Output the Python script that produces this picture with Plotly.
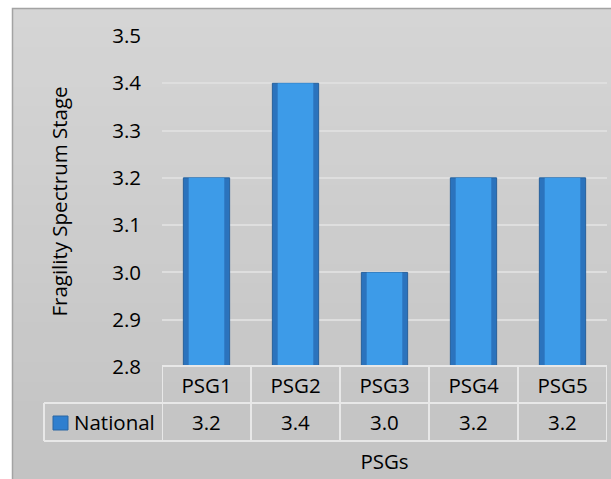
import plotly.graph_objects as go

categories = ["PSG1", "PSG2", "PSG3", "PSG4", "PSG5"]
values = [3.2, 3.4, 3.0, 3.2, 3.2]
series_name = "National"
y_ticks = [2.8, 2.9, 3.0, 3.1, 3.2, 3.3, 3.4, 3.5]
y_title = "Fragility Spectrum Stage"
x_title = "PSGs"

W, H = 611, 479
L, R, T, B = 162, 4, 36, 112
PW, PH = W - L - R, H - T - B
FONT = "Open Sans"
FS = 20.5


def px(x):
    return (x - L) / PW


def py(y):
    return (H - B - y) / PH


shapes = []
# background gradient bands
N = 24
y_top, y_bot = 8, 480
for i in range(N):
    y0 = y_top + i * (y_bot - y_top) / N
    y1 = y_top + (i + 1) * (y_bot - y_top) / N + 0.6
    c = int(round(0xd5 - (0xd5 - 0xc3) * i / (N - 1)))
    shapes.append(dict(type="rect", xref="paper", yref="paper", layer="below",
                       x0=px(12), x1=px(612), y0=py(y0), y1=py(y1),
                       fillcolor=f"rgb({c},{c},{c})", line=dict(width=0)))
# chart border
shapes.append(dict(type="rect", xref="paper", yref="paper", layer="below",
                   x0=px(12.5), x1=px(615), y0=py(8.5), y1=py(485),
                   line=dict(color="#a3a3a3", width=1.5)))

# data table lines
LC = "#e8e8e8"
LW = 2
n = len(categories)
shapes.append(dict(type="line", xref="x", yref="paper", x0=-0.5, x1=n - 0.5,
                   y0=py(366), y1=py(366), line=dict(color=LC, width=LW)))
for yy in (403, 441):
    shapes.append(dict(type="line", xref="paper", yref="paper", x0=px(44), x1=px(607),
                       y0=py(yy), y1=py(yy), line=dict(color=LC, width=LW)))
shapes.append(dict(type="line", xref="paper", yref="paper", x0=px(44), x1=px(44),
                   y0=py(403), y1=py(441), line=dict(color=LC, width=LW)))
for i in range(n + 1):
    shapes.append(dict(type="line", xref="x", yref="paper", x0=i - 0.5, x1=i - 0.5,
                       y0=py(366), y1=py(441), line=dict(color=LC, width=LW)))
# legend key
shapes.append(dict(type="rect", xref="paper", yref="paper",
                   x0=px(53), x1=px(68), y0=py(416), y1=py(430),
                   fillcolor="#2f7fcf", line=dict(color="#2a66a3", width=1)))

annotations = []
for c, v in zip(categories, values):
    annotations.append(dict(x=c, xref="x", y=py(422), yref="paper", text=f"{v:.1f}",
                            showarrow=False, xanchor="center", yanchor="middle",
                            font=dict(family=FONT, size=FS, color="#000")))
annotations.append(dict(x=px(72), xref="paper", y=py(422), yref="paper", text=series_name,
                        showarrow=False, xanchor="left", yanchor="middle",
                        font=dict(family=FONT, size=FS, color="#000")))

fig = go.Figure()
fig.add_trace(go.Bar(x=categories, y=values, name=series_name, width=0.52,
                     marker=dict(color="#2b73bd", line=dict(color="#27619c", width=1))))
fig.add_trace(go.Bar(x=categories, y=values, name=series_name, width=0.40,
                     marker=dict(color="#3d9be8", line=dict(width=0)), showlegend=False))

fig.update_layout(
    width=W, height=H,
    margin=dict(l=L, r=R, t=T, b=B, autoexpand=False),
    paper_bgcolor="white", plot_bgcolor="rgba(0,0,0,0)",
    barmode="overlay", showlegend=False,
    font=dict(family=FONT, size=FS, color="#000"),
    shapes=shapes, annotations=annotations,
    xaxis=dict(range=[-0.5, n - 0.5], showgrid=False, showline=False, zeroline=False,
               ticks="", ticklabelstandoff=4, tickfont=dict(family=FONT, size=FS),
               title=dict(text=x_title, standoff=57, font=dict(family=FONT, size=FS))),
    yaxis=dict(range=[2.8, 3.5], tickvals=y_ticks, tickformat=".1f",
               showgrid=True, gridcolor="#dedede", gridwidth=1.5,
               showline=False, zeroline=False, ticks="", ticklabelstandoff=20,
               tickfont=dict(family=FONT, size=FS),
               title=dict(text=y_title, standoff=38, font=dict(family=FONT, size=FS))),
)

fig.write_html("out.html")
